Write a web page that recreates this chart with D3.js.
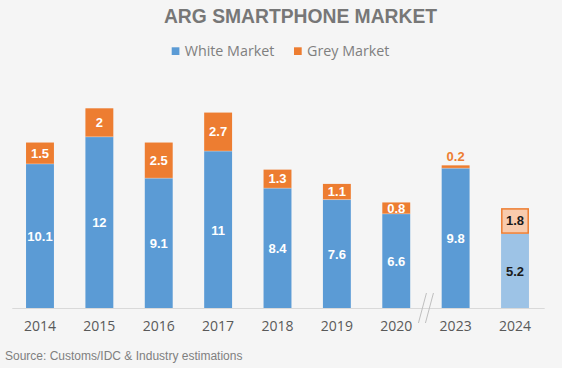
<!DOCTYPE html>
<html>
<head>
<meta charset="utf-8">
<script src="https://cdn.jsdelivr.net/npm/d3@7"></script>
<style>
  body { margin: 0; background: #f5f5f5; }
  svg { display: block; }
</style>
</head>
<body>
<div id="chart"></div>
<script>
var years = ['2014', '2015', '2016', '2017', '2018', '2019', '2020', '2023', '2024'];
var whiteMarket = [10.1, 12, 9.1, 11, 8.4, 7.6, 6.6, 9.8, 5.2];
var greyMarket = [1.5, 2, 2.5, 2.7, 1.3, 1.1, 0.8, 0.2, 1.8];
var seriesNames = ['White Market', 'Grey Market'];

var width = 562, height = 368;
var blue = '#5b9bd5', orange = '#ed7d31';
var lightBlue = '#9dc3e6', lightOrange = '#f8cbad';

var svg = d3.select('#chart').append('svg')
  .attr('width', width)
  .attr('height', height);

svg.append('rect')
  .attr('width', width)
  .attr('height', height)
  .attr('fill', '#f5f5f5');

var x = d3.scaleBand()
  .domain(years)
  .range([10.3, 544.7])
  .paddingInner(0.53)
  .paddingOuter(0.265);

var y = d3.scaleLinear()
  .domain([0, 14])
  .range([308, 108.3]);

var data = years.map(function(yr, i) {
  return {year: yr, white: whiteMarket[i], grey: greyMarket[i], estimate: yr === '2024'};
});

// title
svg.append('text')
  .attr('x', 300.5)
  .attr('y', 22.5)
  .attr('text-anchor', 'middle')
  .attr('font-family', 'Liberation Sans, Arial, sans-serif')
  .attr('font-weight', 'bold')
  .attr('font-size', 19.3)
  .attr('fill', '#777777')
  .text('ARG SMARTPHONE MARKET');

// legend
var legend = svg.append('g');
var legendX = [171.7, 294];
seriesNames.forEach(function(name, i) {
  legend.append('rect')
    .attr('x', legendX[i])
    .attr('y', 47.3)
    .attr('width', 7.7)
    .attr('height', 7.7)
    .attr('fill', i === 0 ? blue : orange);
  legend.append('text')
    .attr('x', legendX[i] + 13)
    .attr('y', 56)
    .attr('font-family', 'Open Sans, sans-serif')
    .attr('font-size', 14.3)
    .attr('fill', '#7f7f7f')
    .text(name);
});

// axis line
svg.append('line')
  .attr('x1', x.range()[0] + 2)
  .attr('x2', x.range()[1])
  .attr('y1', y(0) + 0.5)
  .attr('y2', y(0) + 0.5)
  .attr('stroke', '#d9d9d9')
  .attr('stroke-width', 1);

var bars = svg.selectAll('.bar')
  .data(data)
  .enter().append('g')
  .attr('class', 'bar');

bars.append('rect')
  .attr('x', function(d) { return x(d.year); })
  .attr('width', x.bandwidth())
  .attr('y', function(d) { return y(d.white); })
  .attr('height', function(d) { return y(0) - y(d.white); })
  .attr('fill', function(d) { return d.estimate ? lightBlue : blue; });

bars.append('rect')
  .attr('x', function(d) { return x(d.year) + (d.estimate ? 0.75 : 0); })
  .attr('width', function(d) { return x.bandwidth() - (d.estimate ? 1.5 : 0); })
  .attr('y', function(d) { return y(d.white + d.grey) + (d.estimate ? 0.75 : 0); })
  .attr('height', function(d) { return y(d.white) - y(d.white + d.grey) - (d.estimate ? 1.5 : 0); })
  .attr('fill', function(d) { return d.estimate ? lightOrange : orange; })
  .attr('stroke', function(d) { return d.estimate ? orange : 'none'; })
  .attr('stroke-width', 1.5);

// thin white separator between segments
bars.filter(function(d) { return !d.estimate; }).append('line')
  .attr('x1', function(d) { return x(d.year); })
  .attr('x2', function(d) { return x(d.year) + x.bandwidth(); })
  .attr('y1', function(d) { return y(d.white); })
  .attr('y2', function(d) { return y(d.white); })
  .attr('stroke', '#ffffff')
  .attr('stroke-opacity', 0.5)
  .attr('stroke-width', 0.6);

var labelFont = 'Liberation Sans, Arial, sans-serif';

bars.append('text')
  .attr('x', function(d) { return x(d.year) + x.bandwidth() / 2; })
  .attr('y', function(d) { return (y(d.white) + y(0)) / 2 + 5; })
  .attr('text-anchor', 'middle')
  .attr('font-family', labelFont)
  .attr('font-weight', 'bold')
  .attr('font-size', 13)
  .attr('fill', function(d) { return d.estimate ? '#1a1a1a' : '#ffffff'; })
  .text(function(d) { return d.white; });

bars.append('text')
  .attr('x', function(d) { return x(d.year) + x.bandwidth() / 2; })
  .attr('y', function(d) {
    if (d.grey < 0.5) return y(d.white + d.grey) - 4;
    return (y(d.white) + y(d.white + d.grey)) / 2 + 4.5;
  })
  .attr('text-anchor', 'middle')
  .attr('font-family', labelFont)
  .attr('font-weight', 'bold')
  .attr('font-size', 13)
  .attr('fill', function(d) {
    if (d.estimate) return '#1a1a1a';
    return d.grey < 0.5 ? orange : '#ffffff';
  })
  .text(function(d) { return d.grey; });

// x axis labels
var xAxis = svg.append('g')
  .attr('transform', 'translate(0,' + y(0) + ')')
  .call(d3.axisBottom(x).tickSize(0).tickPadding(13));
xAxis.select('.domain').remove();
xAxis.selectAll('text')
  .attr('font-family', 'Open Sans, sans-serif')
  .attr('font-size', 14)
  .attr('fill', '#595959');

// axis break between 2020 and 2023
var breakX = (x('2020') + x('2023') + x.bandwidth()) / 2;
[-3.5, 3.5].forEach(function(off) {
  svg.append('line')
    .attr('x1', breakX + off - 4)
    .attr('y1', 323)
    .attr('x2', breakX + off + 4)
    .attr('y2', 293)
    .attr('stroke', '#bfbfbf')
    .attr('stroke-width', 1);
});

// source
svg.append('text')
  .attr('x', 5)
  .attr('y', 360)
  .attr('font-family', 'Liberation Sans, Arial, sans-serif')
  .attr('font-size', 12)
  .attr('fill', '#7f7f7f')
  .text('Source: Customs/IDC & Industry estimations');
</script>
</body>
</html>
